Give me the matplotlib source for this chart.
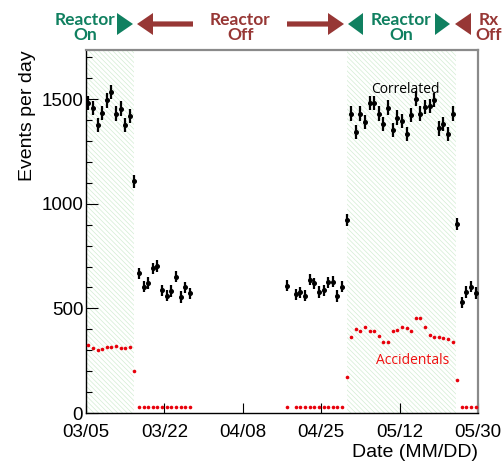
import matplotlib
matplotlib.use("Agg")
import matplotlib.pyplot as plt
from matplotlib.patches import Polygon
from matplotlib.ticker import MultipleLocator
import numpy as np

# ---------------- data ----------------
tick_days = [0, 17, 34, 51, 68, 85]
tick_labels = ["03/05", "03/22", "04/08", "04/25", "05/12", "05/30"]

on1_days = list(range(0, 10))
on1_corr = [1482, 1458, 1375, 1434, 1494, 1534, 1431, 1455, 1375, 1418]
on1_acc = [325, 309, 301, 304, 314, 314, 321, 312, 309, 315]

trans1_day = [10]
trans1_corr = [1107]
trans1_acc = [199]

off1_days = list(range(11, 23))
off1_corr = [667, 603, 622, 691, 702, 587, 560, 583, 651, 555, 600, 572]
off1_acc = [28, 28, 28, 28, 28, 28, 28, 28, 28, 28, 28, 28]

off2_days = [43, 45, 46, 47, 48, 49, 50, 51, 52, 53, 54, 55]
off2_corr = [608, 568, 576, 560, 638, 619, 579, 587, 624, 627, 559, 603]
off2_acc = [28, 28, 28, 28, 28, 28, 28, 28, 28, 28, 28, 28]

trans2_day = [56]
trans2_corr = [922]
trans2_acc = [173]

on2_days = list(range(57, 80))
on2_corr = [1431, 1343, 1431, 1391, 1482, 1482, 1431, 1383, 1460, 1351, 1412,
            1394, 1332, 1423, 1503, 1431, 1463, 1466, 1495, 1360, 1383, 1332, 1431]
on2_acc = [361, 400, 393, 409, 393, 392, 369, 341, 341, 393, 396, 412, 404, 390,
           455, 455, 409, 371, 364, 361, 358, 352, 339]

trans3_day = [80]
trans3_corr = [903]
trans3_acc = [158]

off3_days = [81, 82, 83, 84]
off3_corr = [529, 579, 603, 574]
off3_acc = [28, 28, 28, 28]

on_spans = [(0, 10.5), (56.5, 80.3)]

# ---------------- figure ----------------
plt.rcParams['font.family'] = ['Liberation Sans', 'DejaVu Sans']
plt.rcParams['hatch.linewidth'] = 0.5

fig = plt.figure(figsize=(5.03, 4.62), dpi=100)
ax = fig.add_axes([86 / 503, 1 - 413 / 462, 392 / 503, 363 / 462])

for a, b in on_spans:
    ax.axvspan(a, b, facecolor='none', hatch='\\' * 7, edgecolor='#d3edd3',
               linewidth=0, zorder=0)

corr_groups = [
    (on1_days, on1_corr, 34), (trans1_day, trans1_corr, 30),
    (off1_days, off1_corr, 27), (off2_days, off2_corr, 27),
    (trans2_day, trans2_corr, 30), (on2_days, on2_corr, 34),
    (trans3_day, trans3_corr, 30), (off3_days, off3_corr, 27),
]
for d, v, e in corr_groups:
    x = np.array(d) + 0.5
    ax.errorbar(x, v, yerr=e, fmt='o', color='black', markersize=2.6,
                elinewidth=1.6, capsize=0, zorder=3)

acc_groups = [
    (on1_days, on1_acc), (trans1_day, trans1_acc), (off1_days, off1_acc),
    (off2_days, off2_acc), (trans2_day, trans2_acc), (on2_days, on2_acc),
    (trans3_day, trans3_acc), (off3_days, off3_acc),
]
for d, v in acc_groups:
    x = np.array(d) + 0.5
    ax.plot(x, v, 'o', color='#e8000b', markersize=2.6, markeredgewidth=0,
            zorder=3)

ax.set_xlim(0, 85)
ax.set_ylim(0, 1735)
ax.set_xticks(tick_days)
ax.set_xticklabels(tick_labels)
ax.set_yticks([0, 500, 1000, 1500])
ax.yaxis.set_minor_locator(MultipleLocator(100))

ax.tick_params(axis='x', which='major', direction='in', length=7, width=0.8,
               labelsize=13.5, pad=8)
ax.tick_params(axis='y', which='major', direction='in', length=8.5, width=0.8,
               labelsize=13.5, pad=2)
ax.tick_params(axis='y', which='minor', direction='in', length=4.3, width=0.8)

for s in ['left', 'bottom']:
    ax.spines[s].set_color('black')
    ax.spines[s].set_linewidth(1.0)
for s in ['top', 'right']:
    ax.spines[s].set_color('#8a8a8a')
    ax.spines[s].set_linewidth(1.6)

ax.set_ylabel('Events per day', fontsize=14, loc='top', labelpad=4)
ax.set_xlabel('Date (MM/DD)', fontsize=14, loc='right', labelpad=2)

ax.text(69.2, 1547, 'Correlated', fontsize=10, family=['Open Sans', 'DejaVu Sans'],
        ha='center', va='center', color='black', zorder=4)
ax.text(70.9, 250, 'Accidentals', fontsize=10, family=['Open Sans', 'DejaVu Sans'],
        ha='center', va='center', color='#f01010', zorder=4)

# ---------------- top annotations (figure pixel space) ----------------
ov = fig.add_axes([0, 0, 1, 1], zorder=10)
ov.set_xlim(0, 503)
ov.set_ylim(462, 0)
ov.axis('off')

green = '#108060'
red = '#973735'
yc = 24
hh = 11
sh = 2.6

def tri(base, tip, color):
    ov.add_patch(Polygon([[base, yc - hh], [base, yc + hh], [tip, yc]],
                         closed=True, facecolor=color, edgecolor='none'))

def arrow(tail, base, tip, color):
    ov.add_patch(Polygon([[tail, yc - sh], [base, yc - sh], [base, yc - hh],
                          [tip, yc], [base, yc + hh], [base, yc + sh],
                          [tail, yc + sh]], closed=True, facecolor=color,
                         edgecolor='none'))

tri(117, 133, green)
arrow(193, 153, 137, red)
arrow(287, 328, 344, red)
tri(363, 348, green)
tri(435, 450, green)
tri(471, 455, red)

afont = dict(fontsize=12.5, fontweight='bold', family=['Lato', 'DejaVu Sans'],
             ha='center', va='center', linespacing=0.92)
ov.text(85, 27.5, 'Reactor\nOn', color=green, **afont)
ov.text(240.5, 27.5, 'Reactor\nOff', color=red, **afont)
ov.text(401, 27.5, 'Reactor\nOn', color=green, **afont)
ov.text(489, 27.5, 'Rx\nOff', color=red, **afont)

fig.savefig('out.png', dpi=100)
